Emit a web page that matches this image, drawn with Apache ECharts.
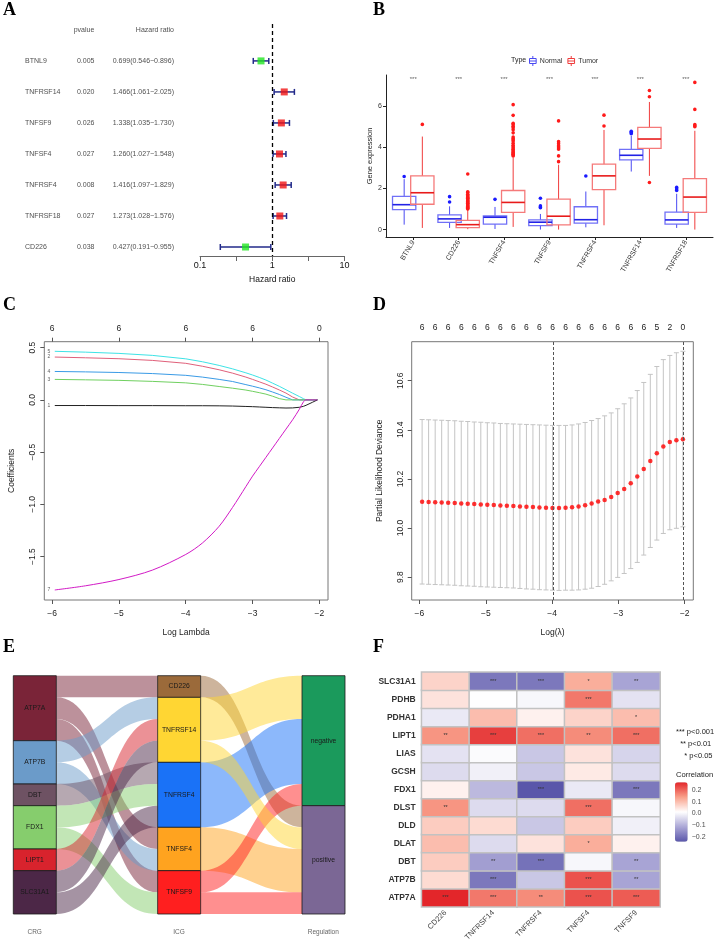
<!DOCTYPE html>
<html><head><meta charset="utf-8">
<script src="https://cdn.jsdelivr.net/npm/echarts@6/dist/echarts.min.js"></script>
<style>html,body{margin:0;padding:0;background:#fff}#c{width:718px;height:945px}</style>
</head><body><div id="c"></div>
<script>
// ---------- Panel A: univariate Cox forest ----------
const genesA = ['BTNL9','TNFRSF14','TNFSF9','TNFSF4','TNFRSF4','TNFRSF18','CD226'];
const pvalA = ['0.005','0.020','0.026','0.027','0.008','0.027','0.038'];
const hrA = [0.699,1.466,1.338,1.260,1.416,1.273,0.427];
const hrLowA = [0.546,1.061,1.035,1.027,1.097,1.028,0.191];
const hrHighA = [0.896,2.025,1.730,1.548,1.829,1.576,0.955];
const headersA = ['pvalue','Hazard ratio'];
const hrTicksA = [0.1,0.316,1,3.16,10];
const hrLabelsA = [0.1,1,10];

// ---------- Panel B: expression boxplots ----------
const genesB = ['BTNL9','CD226','TNFSF4','TNFSF9','TNFRSF4','TNFRSF14','TNFRSF18'];
const sigB = ['***','***','***','***','***','***','***'];
// [lower whisker, Q1, median, Q3, upper whisker]
const normalB = [
 [0.24,0.97,1.21,1.61,2.45],[0.08,0.355,0.52,0.71,1.13],[0.03,0.27,0.60,0.66,1.10],
 [0.00,0.19,0.36,0.47,0.76],[0.11,0.31,0.48,1.11,1.85],[2.82,3.39,3.61,3.90,4.55],[0.08,0.27,0.47,0.85,1.74]];
const tumorB = [
 [0.08,1.23,1.79,2.61,4.52],[0.02,0.10,0.24,0.45,0.98],[0.13,0.84,1.32,1.90,3.50],
 [0.00,0.23,0.65,1.48,3.15],[0.21,1.94,2.61,3.18,4.84],[2.61,3.95,4.40,4.97,6.20],[0.00,0.84,1.58,2.48,4.80]];
const normalOutB = [[2.58],[1.34,1.60],[1.47],[1.06,1.10,1.15,1.52],[2.60],[4.66,4.72,4.78],[1.90,1.97,2.05]];
const tumorOutB = [[5.11],
 [1.00,1.04,1.08,1.12,1.16,1.20,1.24,1.28,1.32,1.36,1.40,1.44,1.48,1.52,1.56,1.60,1.66,1.72,1.80,1.84,2.70],
 [3.58,3.62,3.66,3.70,3.74,3.78,3.84,3.90,3.96,4.02,4.10,4.20,4.30,4.36,4.42,4.50,4.70,4.85,4.95,5.02,5.10,5.16,5.55,6.07],
 [3.30,3.58,3.90,3.96,4.02,4.10,4.20,4.28,5.28],[5.03,5.56],[2.29,6.45,6.76],[5.00,5.05,5.10,5.84,7.15]];
const yTicksB = [0,2,4,6];

// ---------- Panel C: LASSO coefficient paths ----------
const lambdaC = [-5.96,-5.5,-5.0,-4.5,-4.0,-3.75,-3.5,-3.3,-3.1,-3.0,-2.9,-2.8,-2.7,-2.6,-2.5,-2.4,-2.3,-2.24,-2.2,-2.1,-2.03];
const coef5 = [0.465,0.457,0.445,0.426,0.393,0.365,0.330,0.297,0.259,0.238,0.215,0.190,0.160,0.130,0.097,0.064,0.032,0.012,0,0,0];
const coef2 = [0.410,0.403,0.394,0.378,0.350,0.322,0.288,0.256,0.218,0.196,0.173,0.150,0.123,0.095,0.065,0.027,0,0,0,0,0];
const coef4 = [0.272,0.268,0.262,0.252,0.235,0.218,0.196,0.176,0.146,0.131,0.115,0.097,0.075,0.052,0.025,0,0,0,0,0,0];
const coef3 = [0.196,0.192,0.187,0.177,0.163,0.148,0.128,0.112,0.094,0.082,0.069,0.055,0.035,0.012,0,0,0,0,0,0,0];
const coef1 = [-0.054,-0.054,-0.055,-0.055,-0.056,-0.056,-0.057,-0.059,-0.063,-0.065,-0.068,-0.071,-0.074,-0.076,-0.078,-0.077,-0.071,-0.062,-0.052,-0.022,0];
const coef7 = [-1.82,-1.78,-1.72,-1.63,-1.48,-1.37,-1.21,-1.03,-0.83,-0.73,-0.64,-0.55,-0.46,-0.37,-0.28,-0.19,-0.09,-0.02,0,0,0];
const pathNamesC = ['5','2','4','3','1','7'];
const pathColorsC = ['#3ee3e6','#e0607a','#3a9be6','#70d060','#222222','#d21ac6'];
const ticksC = [-6,-5,-4,-3,-2];
const nzTopC = ['6','6','6','6','0'];
const yTicksC = [-1.5,-1.0,-0.5,0.0,0.5];

// ---------- Panel D: cross-validation ----------
const lambdaD = [-5.960,-5.862,-5.763,-5.665,-5.567,-5.468,-5.370,-5.272,-5.174,-5.075,-4.977,-4.879,-4.780,-4.682,-4.584,-4.485,-4.387,-4.289,-4.191,-4.092,-3.994,-3.896,-3.797,-3.699,-3.601,-3.502,-3.404,-3.306,-3.208,-3.109,-3.011,-2.913,-2.814,-2.716,-2.618,-2.519,-2.421,-2.323,-2.225,-2.126,-2.028];
const cvmD = [10.107,10.106,10.105,10.104,10.103,10.102,10.100,10.099,10.098,10.096,10.095,10.094,10.092,10.091,10.090,10.088,10.087,10.086,10.084,10.083,10.082,10.082,10.083,10.085,10.088,10.093,10.100,10.108,10.114,10.127,10.143,10.159,10.182,10.210,10.241,10.273,10.305,10.332,10.350,10.358,10.362];
const cvUpD = [10.442,10.441,10.440,10.439,10.438,10.437,10.435,10.434,10.432,10.431,10.429,10.428,10.426,10.425,10.424,10.423,10.422,10.421,10.420,10.419,10.418,10.418,10.418,10.420,10.424,10.430,10.438,10.446,10.457,10.469,10.486,10.506,10.530,10.560,10.593,10.626,10.658,10.686,10.703,10.714,10.720];
const cvLoD = [9.772,9.771,9.770,9.769,9.768,9.767,9.765,9.764,9.763,9.761,9.760,9.759,9.758,9.757,9.756,9.754,9.752,9.751,9.749,9.748,9.747,9.746,9.747,9.747,9.748,9.751,9.755,9.762,9.771,9.785,9.799,9.815,9.835,9.860,9.890,9.921,9.951,9.978,9.993,9.999,10.005];
const nzTopD = ['6','6','6','6','6','6','6','6','6','6','6','6','6','6','6','6','6','6','5','2','0'];
const lambdaMinIdx = 20, lambda1seIdx = 40;
const yTicksD = [9.8,10.0,10.2,10.4,10.6];

// ---------- Panel E: alluvial ----------
const crgNodes = ['ATP7A','ATP7B','DBT','FDX1','LIPT1','SLC31A1'];
const crgColors = ['#7a2438','#6b9bc9','#6e5263','#86cd6d','#d8232d','#4c2747'];
const icgNodes = ['CD226','TNFRSF14','TNFRSF4','TNFSF4','TNFSF9'];
const icgColors = ['#9b6a3a','#ffd633','#1a72f7','#ffa31f','#ff1f1f'];
const regNodes = ['negative','positive'];
const regColors = ['#1b9a5c','#7b6795'];
const pairsE = [
 ['ATP7A','CD226','positive'],['ATP7A','TNFSF4','positive'],['ATP7A','TNFSF9','positive'],
 ['ATP7B','TNFRSF14','negative'],['ATP7B','TNFSF4','positive'],
 ['DBT','TNFRSF4','negative'],
 ['FDX1','TNFRSF4','negative'],['FDX1','TNFSF9','negative'],
 ['LIPT1','TNFRSF14','positive'],
 ['SLC31A1','TNFRSF14','negative'],['SLC31A1','TNFRSF4','negative']];
const axesE = ['CRG','ICG','Regulation'];

// ---------- Panel F: correlation heatmap ----------
const colsF = ['CD226','TNFRSF14','TNFRSF4','TNFSF4','TNFSF9'];
const rowsF = ['ATP7A','ATP7B','DBT','DLAT','DLD','DLST','FDX1','GCSH','LIAS','LIPT1','PDHA1','PDHB','SLC31A1'];
const corrF = [
 [0.266,0.18,0.16,0.22,0.21],
 [0.06,-0.19,-0.07,0.22,-0.12],
 [0.08,-0.13,-0.20,0.00,-0.12],
 [0.10,-0.04,0.05,0.12,0.03],
 [0.08,0.06,-0.07,0.08,-0.01],
 [0.15,-0.04,-0.04,0.19,0.00],
 [0.03,-0.09,-0.243,-0.02,-0.19],
 [-0.04,-0.01,-0.07,0.04,-0.04],
 [-0.03,0.005,-0.07,0.05,-0.05],
 [0.15,0.24,0.19,0.16,0.19],
 [-0.02,0.10,0.03,0.07,0.10],
 [0.05,0.01,0.00,0.18,-0.03],
 [0.07,-0.19,-0.19,0.12,-0.12]];
const starsF = [
 ['***','***','**','***','***'],
 ['','***','','***','**'],
 ['','**','***','','**'],
 ['','','','*',''],
 ['','','','',''],
 ['**','','','***',''],
 ['','','***','','***'],
 ['','','','',''],
 ['','','','',''],
 ['**','***','***','**','***'],
 ['','','','','*'],
 ['','','','***',''],
 ['','***','***','*','**']];
const corrTicksF = [-0.2,-0.1,0.0,0.1,0.2];
const corrMinF = -0.243, corrMaxF = 0.266;

// ================= build =================
const FONT = '"Liberation Sans", Arial, Helvetica, sans-serif';
const SERIF = '"Liberation Serif", "Times New Roman", serif';
const fmt = (v, d) => { v = +v; const s = d == null ? String(Math.abs(v)) : Math.abs(v).toFixed(d); return (v < -1e-9 ? '\u2212' : '') + s; };
const chart = echarts.init(document.getElementById('c'), null, {renderer: 'canvas'});

function ptitle(t, left, top) {
  return {text: t, left: left, top: top, padding: 0,
    textStyle: {fontFamily: SERIF, fontWeight: 'bold', fontSize: 18, color: '#000'}};
}
const noAxis = {axisLine: {show: false, onZero: false}, axisTick: {show: false}, axisLabel: {show: false}, splitLine: {show: false}};
const txt = (o) => Object.assign({fontFamily: FONT, color: '#222'}, o);

const grids = [
  {left: 0, top: 24, width: 200, height: 232},                 // 0 A table
  {left: 200, top: 24, width: 144.5, height: 232},             // 1 A forest
  {left: 386, top: 75, width: 327, height: 162},               // 2 B
  {left: 44.3, top: 341.7, width: 283.7, height: 258.3, show: true, borderColor: '#777', borderWidth: 1}, // 3 C
  {left: 411.7, top: 341.7, width: 281.6, height: 258.3, show: true, borderColor: '#777', borderWidth: 1}, // 4 D
  {left: 34.7, top: 920, width: 288.6, height: 5},             // 5 E axis labels
  {left: 421.7, top: 672.3, width: 238.3, height: 234.4},      // 6 F heatmap
  {left: 675, top: 782.3, width: 12.7, height: 59.4}           // 7 F colorbar labels
].map(g => Object.assign({outerBoundsMode: 'none', containLabel: false}, g));

const xAxes = [];
const yAxes = [];
// x0 / y0 : A table
xAxes.push(Object.assign({type: 'category', gridIndex: 0, data: ['gene','pvalue','hr']}, noAxis));
yAxes.push(Object.assign({type: 'value', gridIndex: 0, inverse: true, min: -0.19, max: 7.29}, noAxis));
// x1 / y1 : A forest
xAxes.push({type: 'log', logBase: 10, gridIndex: 1, min: 0.1, max: 10, position: 'bottom',
  axisLine: {show: true, onZero: false, lineStyle: {color: '#666', width: 1}},
  axisTick: {show: true, length: 5, customValues: hrTicksA, lineStyle: {color: '#666'}},
  minorTick: {show: false}, splitLine: {show: false},
  axisLabel: {customValues: hrLabelsA, formatter: v => String(+(+v).toPrecision(3)), fontSize: 9, margin: 5, color: '#111', fontFamily: FONT},
  name: 'Hazard ratio', nameLocation: 'middle', nameGap: 19, nameTextStyle: txt({fontSize: 8.5, color: '#111'})});
yAxes.push(Object.assign({type: 'value', gridIndex: 1, inverse: true, min: -0.19, max: 7.29}, noAxis));
// x2 / y2 : B
xAxes.push({type: 'value', gridIndex: 2, min: 0.4, max: 7.6,
  axisLine: {show: true, onZero: false, lineStyle: {color: '#222', width: 1}},
  axisTick: {show: true, length: 3, customValues: [1,2,3,4,5,6,7], lineStyle: {color: '#222'}},
  splitLine: {show: false},
  axisLabel: {customValues: [1,2,3,4,5,6,7], formatter: v => genesB[Math.round(v) - 1], rotate: 60, fontSize: 7, margin: 4, color: '#333', fontFamily: FONT}});
yAxes.push({type: 'value', gridIndex: 2, min: -0.36, max: 7.51,
  axisLine: {show: true, onZero: false, lineStyle: {color: '#222', width: 1}},
  axisTick: {show: true, length: 3, customValues: yTicksB, lineStyle: {color: '#222'}},
  splitLine: {show: false},
  axisLabel: {customValues: yTicksB, fontSize: 7, margin: 4, color: '#333', fontFamily: FONT},
  name: 'Gene expression', nameLocation: 'middle', nameGap: 6, nameTextStyle: txt({fontSize: 7.5, color: '#222'})});
// x3, x4 / y3 : C
const rAxisX = (grid, pos, labels, name) => ({type: 'value', gridIndex: grid, min: -6.117, max: -1.871, position: pos,
  axisLine: {show: false, onZero: false},
  axisTick: {show: true, length: 4, customValues: ticksC, lineStyle: {color: '#555'}},
  splitLine: {show: false},
  axisLabel: {customValues: ticksC, formatter: labels, fontSize: 8.5, margin: 9, color: '#222', fontFamily: FONT},
  name: name, nameLocation: 'middle', nameGap: 28, nameTextStyle: txt({fontSize: 8.5})});
xAxes.push(rAxisX(3, 'bottom', v => fmt(v), 'Log Lambda'));
xAxes.push(rAxisX(3, 'top', v => nzTopC[ticksC.indexOf(Math.round(v))], ''));
yAxes.push({type: 'value', gridIndex: 3, min: -1.916, max: 0.557,
  axisLine: {show: false, onZero: false}, splitLine: {show: false},
  axisTick: {show: true, length: 4, customValues: yTicksC, lineStyle: {color: '#555'}},
  axisLabel: {customValues: yTicksC, formatter: v => fmt(v, 1), rotate: 90, fontSize: 8.5, margin: 7, color: '#222', fontFamily: FONT},
  name: 'Coefficients', nameLocation: 'middle', nameGap: 28, nameTextStyle: txt({fontSize: 8.5})});
// x5, x6 / y4 : D
xAxes.push(rAxisX(4, 'bottom', v => fmt(v), 'Log(\u03bb)'));
const lambdaTopD = lambdaD.filter((_, i) => i % 2 === 0);
xAxes.push({type: 'value', gridIndex: 4, min: -6.117, max: -1.871, position: 'top',
  axisLine: {show: false, onZero: false}, axisTick: {show: false}, splitLine: {show: false},
  axisLabel: {customValues: lambdaTopD, fontSize: 8.5, margin: 10, color: '#222', fontFamily: FONT,
    formatter: v => { let b = 0; lambdaTopD.forEach((l, i) => { if (Math.abs(l - v) < Math.abs(lambdaTopD[b] - v)) b = i; }); return nzTopD[b]; }}});
yAxes.push({type: 'value', gridIndex: 4, min: 9.707, max: 10.759,
  axisLine: {show: false, onZero: false}, splitLine: {show: false},
  axisTick: {show: true, length: 4, customValues: yTicksD, lineStyle: {color: '#555'}},
  axisLabel: {customValues: yTicksD, formatter: v => fmt(v, 1), rotate: 90, fontSize: 8.5, margin: 7, color: '#222', fontFamily: FONT},
  name: 'Partial Likelihood Deviance', nameLocation: 'middle', nameGap: 28, nameTextStyle: txt({fontSize: 8.5})});
// x7 / y5 : E axis labels
xAxes.push({type: 'category', gridIndex: 5, data: axesE, boundaryGap: false,
  axisLine: {show: false, onZero: false}, axisTick: {show: false}, splitLine: {show: false},
  axisLabel: {fontSize: 6.5, color: '#666', margin: 4, fontFamily: FONT}});
yAxes.push(Object.assign({type: 'value', gridIndex: 5}, noAxis));
// x8 / y6 : F heatmap
xAxes.push({type: 'category', gridIndex: 6, data: colsF,
  axisLine: {show: false, onZero: false}, axisTick: {show: false}, splitLine: {show: false},
  axisLabel: {rotate: 45, fontSize: 7.5, color: '#444', margin: 5, fontFamily: FONT, interval: 0}});
yAxes.push({type: 'category', gridIndex: 6, data: rowsF,
  axisLine: {show: false, onZero: false}, axisTick: {show: false}, splitLine: {show: false},
  axisLabel: {fontSize: 8.5, fontWeight: 'bold', color: '#333', margin: 6, fontFamily: FONT, interval: 0}});
// x9 / y7 : F colorbar labels
xAxes.push(Object.assign({type: 'value', gridIndex: 7}, noAxis));
yAxes.push({type: 'value', gridIndex: 7, min: corrMinF, max: corrMaxF, position: 'right',
  axisLine: {show: false, onZero: false}, axisTick: {show: false}, splitLine: {show: false},
  axisLabel: {customValues: corrTicksF, formatter: v => fmt(v, 1), fontSize: 7, color: '#4d4d4d', margin: 4, fontFamily: FONT}});

const series = [];
const textScatter = (xi, yi, data, label) => ({type: 'scatter', xAxisIndex: xi, yAxisIndex: yi, data: data,
  symbolSize: 1, itemStyle: {color: 'transparent'}, silent: true,
  label: Object.assign({show: true, position: 'inside', formatter: p => p.value[2], fontFamily: FONT, color: '#1a1a1a'}, label)});
// A table
series.push(textScatter(0, 0, genesA.map((g, i) => ['gene', i + 1, g]), {align: 'left', offset: [-8.3, 0], fontSize: 7}));
series.push(textScatter(0, 0, pvalA.map((p, i) => ['pvalue', i + 1, p]), {align: 'center', offset: [-14.3, 0], fontSize: 7}));
series.push(textScatter(0, 0, hrA.map((h, i) => ['hr', i + 1, h.toFixed(3) + '(' + hrLowA[i].toFixed(3) + '\u2212' + hrHighA[i].toFixed(3) + ')']), {align: 'right', offset: [7.3, 0], fontSize: 7}));
series.push(textScatter(0, 0, [['pvalue', 0, headersA[0]]], {align: 'center', offset: [-16, 0], fontSize: 7}));
series.push(textScatter(0, 0, [['hr', 0, headersA[1]]], {align: 'right', offset: [7.3, 0], fontSize: 7}));
// A error bars
series.push({type: 'custom', xAxisIndex: 1, yAxisIndex: 1, silent: true,
  data: genesA.map((g, i) => [hrLowA[i], hrHighA[i], i + 1]), encode: {x: [0, 1], y: 2},
  renderItem: (params, api) => {
    const y = api.value(2), a = api.coord([api.value(0), y]), b = api.coord([api.value(1), y]), h = 3;
    const st = {stroke: '#222a8a', lineWidth: 1.5};
    return {type: 'group', children: [
      {type: 'line', shape: {x1: a[0], y1: a[1], x2: b[0], y2: b[1]}, style: st},
      {type: 'line', shape: {x1: a[0], y1: a[1] - h, x2: a[0], y2: a[1] + h}, style: st},
      {type: 'line', shape: {x1: b[0], y1: b[1] - h, x2: b[0], y2: b[1] + h}, style: st}]};
  }});
series.push({type: 'scatter', xAxisIndex: 1, yAxisIndex: 1, symbol: 'rect', symbolSize: 7, silent: true,
  data: hrA.map((h, i) => ({value: [h, i + 1], itemStyle: {color: h > 1 ? '#f01414' : '#22e622'}})),
  markLine: {silent: true, symbol: 'none', label: {show: false}, data: [{xAxis: 1}],
    lineStyle: {color: '#000', type: [4, 3], width: 1.3}}});
// B boxes
function boxSeries(stats, off, c, name) {
  return {type: 'custom', name: name, xAxisIndex: 2, yAxisIndex: 2, silent: true,
    itemStyle: {color: c.med},
    data: stats.map((s, i) => [i + 1].concat(s)), encode: {x: 0, y: [1, 2, 3, 4, 5]},
    renderItem: (params, api) => {
      const i = api.value(0);
      const p = k => api.coord([i, api.value(k)]);
      const band = api.size([1, 0])[0];
      const cx = p(3)[0] + off * band, hw = 0.2565 * band;
      const yMin = p(1)[1], yQ1 = p(2)[1], yMed = p(3)[1], yQ3 = p(4)[1], yMax = p(5)[1];
      return {type: 'group', children: [
        {type: 'line', shape: {x1: cx, y1: yMax, x2: cx, y2: yQ3}, style: {stroke: c.wh, lineWidth: 1}},
        {type: 'line', shape: {x1: cx, y1: yQ1, x2: cx, y2: yMin}, style: {stroke: c.wh, lineWidth: 1}},
        {type: 'rect', shape: {x: cx - hw, y: yQ3, width: 2 * hw, height: yQ1 - yQ3}, style: {fill: 'none', stroke: c.box, lineWidth: 1.3}},
        {type: 'line', shape: {x1: cx - hw, y1: yMed, x2: cx + hw, y2: yMed}, style: {stroke: c.med, lineWidth: 1.6}}]};
    }};
}
function outSeries(outs, off, color, name) {
  const d = [];
  outs.forEach((arr, i) => arr.forEach(v => d.push([i + 1, v])));
  return {type: 'custom', name: name, xAxisIndex: 2, yAxisIndex: 2, silent: true, data: d, encode: {x: 0, y: 1},
    renderItem: (params, api) => {
      const pt = api.coord([api.value(0), api.value(1)]);
      const band = api.size([1, 0])[0];
      return {type: 'circle', shape: {cx: pt[0] + off * band, cy: pt[1], r: 1.8}, style: {fill: color}};
    }};
}
const blueC = {wh: '#4a4af2', box: '#7070f7', med: '#2222e6'};
const redC = {wh: '#f03c3c', box: '#f57a7a', med: '#e81a1a'};
series.push(boxSeries(normalB, -0.2, blueC, 'Normal'));
series.push(boxSeries(tumorB, 0.2, redC, 'Tumor'));
series.push(outSeries(normalOutB, -0.2, '#1a1aff', 'Normal'));
series.push(outSeries(tumorOutB, 0.2, '#ff1a1a', 'Tumor'));
series.push(textScatter(2, 2, genesB.map((g, i) => [i + 1, 7.29, sigB[i]]), {fontSize: 6, color: '#333'}));
// C paths (x3 / y3)
const pathsC = [coef5, coef2, coef4, coef3, coef1, coef7];
pathsC.forEach((arr, k) => {
  series.push({type: 'line', xAxisIndex: 3, yAxisIndex: 3, silent: true, symbol: 'none',
    smooth: k === 5 ? 0.3 : false,
    data: lambdaC.map((x, i) => [x, arr[i]]), lineStyle: {color: pathColorsC[k], width: 1}, itemStyle: {color: pathColorsC[k]}});
});
series.push(textScatter(3, 3, pathsC.map((arr, k) => [lambdaC[0], arr[0], pathNamesC[k]]),
  {position: 'left', distance: 4, fontSize: 5, color: '#333'}));
// D error bars + points (x5 / y4)
series.push({type: 'custom', xAxisIndex: 5, yAxisIndex: 4, silent: true,
  data: lambdaD.map((x, i) => [x, cvLoD[i], cvUpD[i]]), encode: {x: 0, y: [1, 2]},
  renderItem: (params, api) => {
    const a = api.coord([api.value(0), api.value(1)]), b = api.coord([api.value(0), api.value(2)]), w = 2.5;
    const st = {stroke: '#c4c4c4', lineWidth: 1};
    return {type: 'group', children: [
      {type: 'line', shape: {x1: a[0], y1: a[1], x2: b[0], y2: b[1]}, style: st},
      {type: 'line', shape: {x1: a[0] - w, y1: a[1], x2: a[0] + w, y2: a[1]}, style: st},
      {type: 'line', shape: {x1: b[0] - w, y1: b[1], x2: b[0] + w, y2: b[1]}, style: st}]};
  }});
series.push({type: 'scatter', xAxisIndex: 5, yAxisIndex: 4, silent: true, symbolSize: 4.5,
  itemStyle: {color: '#ff0000'}, data: lambdaD.map((x, i) => [x, cvmD[i]]),
  markLine: {silent: true, symbol: 'none', label: {show: false},
    data: [{xAxis: lambdaD[lambdaMinIdx]}, {xAxis: lambdaD[lambda1seIdx]}],
    lineStyle: {color: '#555', type: [3, 2], width: 1}}});
// E sankey
const nodesE = [];
crgNodes.forEach((n, i) => nodesE.push({name: n, itemStyle: {color: crgColors[i]}}));
icgNodes.forEach((n, i) => nodesE.push({name: n, itemStyle: {color: icgColors[i]}}));
regNodes.forEach((n, i) => nodesE.push({name: n, itemStyle: {color: regColors[i]}}));
const linkMap = {};
pairsE.forEach(([c, g, r]) => {
  linkMap[c + '|' + g] = (linkMap[c + '|' + g] || 0) + 1;
  linkMap[g + '|' + r] = (linkMap[g + '|' + r] || 0) + 1;
});
const linksE = Object.keys(linkMap).map(k => { const [s, t] = k.split('|'); return {source: s, target: t, value: linkMap[k]}; });
series.push({type: 'sankey', left: 13.3, top: 675.7, width: 331.7, height: 238.3,
  nodeWidth: 43, nodeGap: 0, layoutIterations: 0, draggable: false, nodeAlign: 'justify', silent: true,
  data: nodesE, links: linksE,
  itemStyle: {borderColor: '#1a1a1a', borderWidth: 0.8},
  lineStyle: {color: 'source', opacity: 0.5, curveness: 0.5},
  label: {show: true, position: 'inside', fontSize: 6.8, color: '#1a1a1a', fontFamily: FONT}});
series.push({type: 'scatter', xAxisIndex: 7, yAxisIndex: 5, data: []});
// F heatmap (x8 / y6)
const heatData = [];
rowsF.forEach((r, ri) => colsF.forEach((c, ci) => heatData.push([ci, ri, corrF[ri][ci]])));
const heatIndex = series.length;
series.push({type: 'heatmap', xAxisIndex: 8, yAxisIndex: 6, silent: true, data: heatData,
  itemStyle: {borderColor: '#c2c2c2', borderWidth: 1.5},
  label: {show: true, fontSize: 5.5, color: '#333', fontFamily: FONT, formatter: p => starsF[p.value[1]][p.value[0]]}});
series.push({type: 'scatter', xAxisIndex: 9, yAxisIndex: 7, data: []});

const option = {
  animation: false, backgroundColor: '#fff', textStyle: {fontFamily: FONT},
  title: [
    ptitle('A', 3, 1), ptitle('B', 373, 1), ptitle('C', 3, 296), ptitle('D', 373, 296), ptitle('E', 3, 638), ptitle('F', 373, 638),
    {text: 'Type', left: 511, top: 57, padding: 0, textStyle: txt({fontSize: 7, fontWeight: 'normal', color: '#222'})},
    {text: 'Correlation', left: 676, top: 770.5, padding: 0, textStyle: txt({fontSize: 7.6, fontWeight: 'normal', color: '#222'})},
    {text: '*** p<0.001\n  ** p<0.01\n    * p<0.05', left: 676, top: 726, padding: 0,
      textStyle: txt({fontSize: 7.5, fontWeight: 'normal', color: '#222', lineHeight: 12})}
  ],
  legend: {left: 529, top: 55.5, padding: 0, itemWidth: 8, itemHeight: 10, itemGap: 5, selectedMode: false,
    icon: 'path://M1,3H9V9H1Z M1,6H9 M5,0V3 M5,9V12',
    textStyle: {fontSize: 7, color: '#333', fontFamily: FONT, padding: [0, 0, 0, -2]},
    data: [
      {name: 'Normal', itemStyle: {color: 'transparent', borderColor: '#4a4af2', borderWidth: 1}},
      {name: 'Tumor', itemStyle: {color: 'transparent', borderColor: '#f03c3c', borderWidth: 1}}]},
  visualMap: [{type: 'continuous', seriesIndex: heatIndex, min: corrMinF, max: corrMaxF, calculable: false,
    orient: 'vertical', left: 675, top: 782.3, itemWidth: 12.7, itemHeight: 59.4, padding: 0, hoverLink: false,
    inRange: {color: ['#5a57aa', '#aba7d6', '#ffffff', '#f9a08a', '#e3262a']}}],
  grid: grids, xAxis: xAxes, yAxis: yAxes, series: series
};
chart.setOption(option);
</script></body></html>
